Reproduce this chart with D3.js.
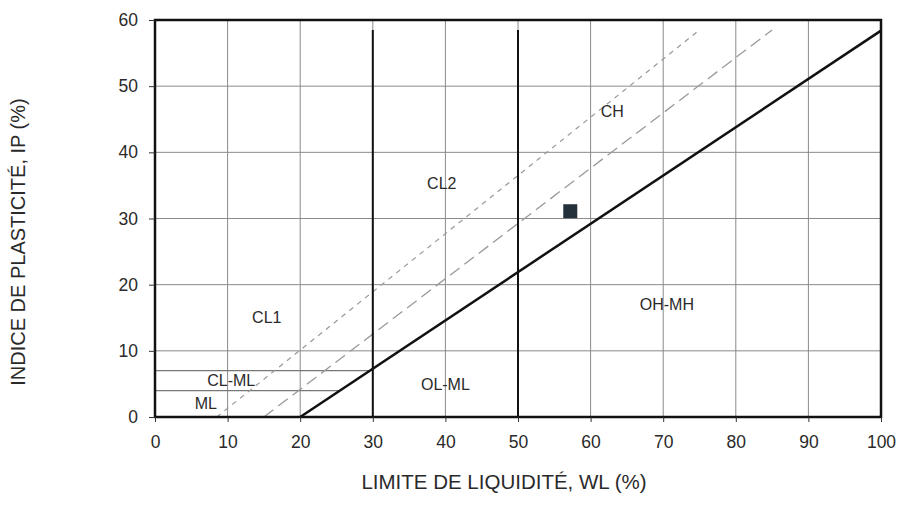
<!DOCTYPE html>
<html>
<head>
<meta charset="utf-8">
<script src="https://cdn.jsdelivr.net/npm/d3@7"></script>
<style>
  body { margin: 0; background: #fff; }
  svg { font-family: "Liberation Sans", Arial, sans-serif; }
</style>
</head>
<body>
<div id="chart"></div>
<script>
// axis ticks
const xTicks = [0, 10, 20, 30, 40, 50, 60, 70, 80, 90, 100];
const yTicks = [0, 10, 20, 30, 40, 50, 60];

// classification lines (WL, IP)
const aLine = [[20, 0], [100, 58.4]];
const shortDash = [[8.5, 0], [75, 58.5]];
const longDash = [[15, 0], [85, 58.5]];
const verticals = [30, 50];
const verticalTop = 58.5;
const hLines = [[0, 4, 25.5], [0, 7, 29.6]]; // x1, ip, x2

// zone labels
const zoneNames = ["CL1", "CL2", "CH", "OH-MH", "OL-ML", "CL-ML", "ML"];
const zoneWL = [15.4, 39.5, 63, 70.5, 40, 10.5, 7];
const zoneIP = [15, 35.3, 46.2, 17, 5, 5.5, 2];

// measured sample
const sampleWL = [57.2];
const sampleIP = [31.1];

const width = 898, height = 518;
const margin = {left: 155, right: 17, top: 20, bottom: 101};

const svg = d3.select("#chart").append("svg")
    .attr("width", width)
    .attr("height", height);

const x = d3.scaleLinear().domain([0, 100]).range([margin.left, width - margin.right]);
const y = d3.scaleLinear().domain([0, 60]).range([height - margin.bottom, margin.top]);

// grid
svg.append("g").selectAll("line").data(xTicks.slice(1, -1)).enter()
    .append("line")
    .attr("x1", d => x(d)).attr("x2", d => x(d))
    .attr("y1", y(0)).attr("y2", y(60))
    .attr("stroke", "#8a8a8a").attr("stroke-width", 1);
svg.append("g").selectAll("line").data(yTicks.slice(1, -1)).enter()
    .append("line")
    .attr("x1", x(0)).attr("x2", x(100))
    .attr("y1", d => y(d)).attr("y2", d => y(d))
    .attr("stroke", "#8a8a8a").attr("stroke-width", 1);

// horizontal limits CL-ML / ML
svg.append("g").selectAll("line").data(hLines).enter()
    .append("line")
    .attr("x1", d => x(d[0])).attr("x2", d => x(d[2]))
    .attr("y1", d => y(d[1])).attr("y2", d => y(d[1]))
    .attr("stroke", "#777").attr("stroke-width", 1.2);

const line = d3.line().x(d => x(d[0])).y(d => y(d[1]));

// dashed lines
svg.append("path").datum(shortDash)
    .attr("d", line)
    .attr("fill", "none")
    .attr("stroke", "#999").attr("stroke-width", 1.2)
    .attr("stroke-dasharray", "5,5");
svg.append("path").datum(longDash)
    .attr("d", line)
    .attr("fill", "none")
    .attr("stroke", "#999").attr("stroke-width", 1.3)
    .attr("stroke-dasharray", "12,6");

// vertical limits
svg.append("g").selectAll("line").data(verticals).enter()
    .append("line")
    .attr("x1", d => x(d)).attr("x2", d => x(d))
    .attr("y1", y(0)).attr("y2", y(verticalTop))
    .attr("stroke", "#111").attr("stroke-width", 2);

// A-line
svg.append("path").datum(aLine)
    .attr("d", line)
    .attr("fill", "none")
    .attr("stroke", "#111").attr("stroke-width", 2.5);

// frame
svg.append("rect")
    .attr("x", x(0)).attr("y", y(60))
    .attr("width", x(100) - x(0)).attr("height", y(0) - y(60))
    .attr("fill", "none")
    .attr("stroke", "#111").attr("stroke-width", 2.5);

// axes
const xAxis = svg.append("g")
    .attr("transform", `translate(0,${y(0)})`)
    .call(d3.axisBottom(x).tickValues(xTicks).tickSize(5).tickPadding(14));
const yAxis = svg.append("g")
    .attr("transform", `translate(${x(0)},0)`)
    .call(d3.axisLeft(y).tickValues(yTicks).tickSize(6).tickPadding(11));
[xAxis, yAxis].forEach(g => {
    g.select(".domain").remove();
    g.selectAll(".tick line").attr("stroke", "#333");
    g.selectAll(".tick text")
        .attr("font-size", 17.5)
        .attr("fill", "#2a2a2a")
        .attr("font-family", "Liberation Sans, Arial, sans-serif");
});

// zone labels
svg.append("g").selectAll("text").data(zoneNames).enter()
    .append("text")
    .attr("x", (d, i) => x(zoneWL[i]))
    .attr("y", (d, i) => y(zoneIP[i]))
    .attr("dy", "0.35em")
    .attr("text-anchor", "middle")
    .attr("font-size", 16)
    .attr("fill", "#2a2a2a")
    .text(d => d);

// sample point
svg.append("g").selectAll("rect").data(sampleWL).enter()
    .append("rect")
    .attr("x", (d, i) => x(d) - 7)
    .attr("y", (d, i) => y(sampleIP[i]) - 7)
    .attr("width", 14).attr("height", 14)
    .attr("fill", "#24313a");

// axis titles
svg.append("text")
    .attr("x", 504)
    .attr("y", 489)
    .attr("text-anchor", "middle")
    .attr("font-size", 20.5)
    .attr("fill", "#2a2a2a")
    .text("LIMITE DE LIQUIDITÉ, WL (%)");
svg.append("text")
    .attr("transform", `translate(25,242) rotate(-90)`)
    .attr("text-anchor", "middle")
    .attr("font-size", 20)
    .attr("fill", "#2a2a2a")
    .text("INDICE DE PLASTICITÉ, IP (%)");
</script>
</body>
</html>
